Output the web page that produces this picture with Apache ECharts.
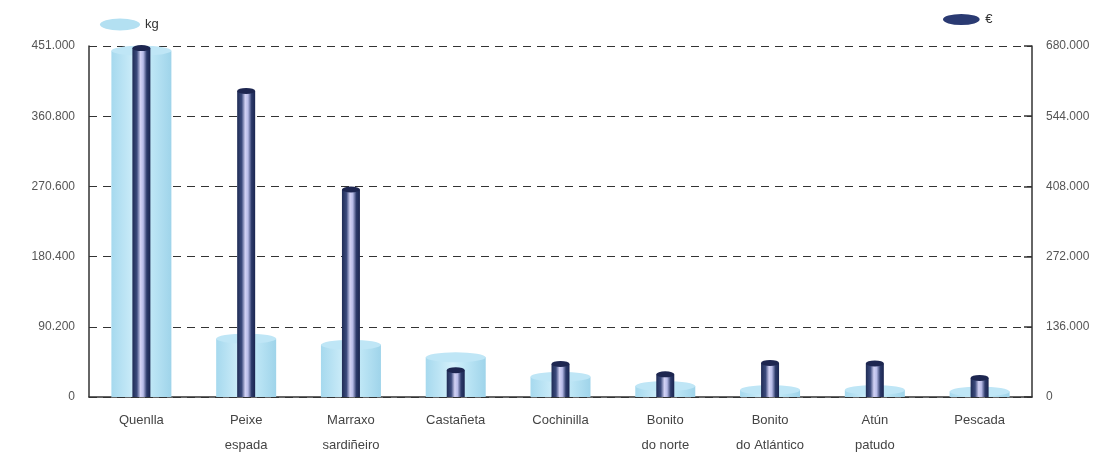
<!DOCTYPE html>
<html><head><meta charset="utf-8">
<script src="https://cdn.jsdelivr.net/npm/echarts@6/dist/echarts.min.js"></script>
<style>html,body{margin:0;padding:0;background:#fff}#c{width:1109px;height:458px}</style>
</head><body><div id="c"></div>
<script>
const categories = ['Quenlla','Peixe\nespada','Marraxo\nsardiñeiro','Castañeta','Cochinilla','Bonito\ndo norte','Bonito\ndo Atlántico','Atún\npatudo','Pescada'];
const kgValues = [445000, 75000, 67000, 51000, 26000, 14000, 9000, 9000, 7000];
const euroValues = [676000, 593000, 402000, 52000, 64000, 44000, 66000, 65000, 37000];
const kgTicks = {min: 0, max: 451000, interval: 90200};
const euroTicks = {min: 0, max: 680000, interval: 136000};

function fmt(v){ return String(Math.round(v)).replace(/\B(?=(\d{3})+(?!\d))/g, '.'); }

const lightGrad = {type:'linear',x:0,y:0,x2:1,y2:0,colorStops:[
  {offset:0,color:'#a6d9ee'},{offset:0.45,color:'#d4f0fb'},{offset:0.6,color:'#c4eaf8'},{offset:1,color:'#9fd4ea'}]};
const darkGrad = {type:'linear',x:0,y:0,x2:1,y2:0,colorStops:[
  {offset:0,color:'#1f2c55'},{offset:0.25,color:'#3b4a7c'},{offset:0.45,color:'#d2d2f4'},{offset:0.6,color:'#b8bce8'},{offset:0.8,color:'#2c3a6a'},{offset:1,color:'#1a2550'}]};

const chart = echarts.init(document.getElementById('c'));
const ellipse = 'path://M0,6 A20,6 0 1,1 40,6 A20,6 0 1,1 0,6 Z';
chart.setOption({
  animation:false,
  textStyle:{fontFamily:'Liberation Sans, Arial, sans-serif'},
  legend:[
    {data:[{name:'kg',icon:ellipse,itemStyle:{color:'#b3e0f2'}}],left:95,top:13,itemWidth:40,itemHeight:12,itemGap:10,
     textStyle:{color:'#333',fontSize:13}},
    {data:[{name:'€',icon:ellipse,itemStyle:{color:'#2a3a72'}}],left:938,top:8,itemWidth:38,itemHeight:11,
     textStyle:{color:'#333',fontSize:13}}
  ],
  grid:{left:89,right:77,top:46,bottom:60},
  xAxis:[
    {type:'category',data:categories,
     axisLine:{lineStyle:{color:'#333',width:1.5}},
     axisTick:{inside:true,length:8,lineStyle:{color:'#333'}},
     axisLabel:{color:'#444',fontSize:13,lineHeight:25,margin:11,interval:0}},
    {type:'category',data:categories,show:false}
  ],
  yAxis:[
    {type:'value',min:kgTicks.min,max:kgTicks.max,interval:kgTicks.interval,
     axisLine:{show:true,lineStyle:{color:'#333',width:1.5}},
     axisTick:{show:true,inside:true,length:5,lineStyle:{color:'#333'}},
     axisLabel:{color:'#555',fontSize:12,margin:14,formatter:fmt},
     splitLine:{show:true,lineStyle:{color:'#333',type:[8,6],width:1}}},
    {type:'value',min:euroTicks.min,max:euroTicks.max,interval:euroTicks.interval,position:'right',
     axisLine:{show:true,lineStyle:{color:'#333',width:1.5}},
     axisTick:{show:true,inside:true,length:8,lineStyle:{color:'#333',width:1.5}},
     axisLabel:{color:'#555',fontSize:12,margin:14,formatter:fmt},
     splitLine:{show:false}}
  ],
  series:[
    {name:'kg',type:'bar',xAxisIndex:0,yAxisIndex:0,data:kgValues,barWidth:60,itemStyle:{color:lightGrad},z:2},
    {type:'scatter',xAxisIndex:0,yAxisIndex:0,data:kgValues,symbol:'circle',symbolSize:[60,10],
     itemStyle:{color:'#bfe6f6',opacity:1},z:3,silent:true},
    {name:'€',type:'bar',xAxisIndex:1,yAxisIndex:1,data:euroValues,barWidth:18,itemStyle:{color:darkGrad},z:4},
    {type:'scatter',xAxisIndex:1,yAxisIndex:1,data:euroValues,symbol:'circle',symbolSize:[18,6],
     itemStyle:{color:'#1d2650',opacity:1},z:5,silent:true}
  ]
});
</script></body></html>
